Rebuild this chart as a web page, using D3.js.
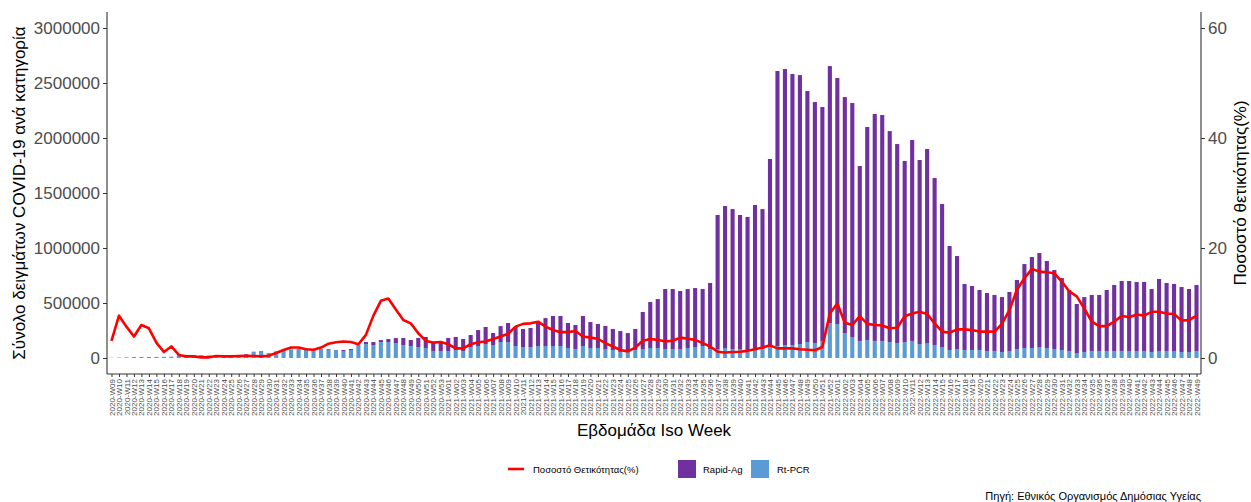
<!DOCTYPE html>
<html><head><meta charset="utf-8">
<script src="https://cdn.jsdelivr.net/npm/d3@7"></script>
<style>body{margin:0;background:#fff}svg{display:block}text{font-family:"Liberation Sans",Arial,sans-serif}</style>
</head><body><svg id="c" width="1251" height="502"></svg>
<script>
// ---- categories (ISO weeks) ----
const years = [[2020, 9, 53], [2021, 1, 52], [2022, 1, 49]];
const weeks = [];
years.forEach(([y, a, b]) => { for (let w = a; w <= b; w++) weeks.push(y + "-W" + String(w).padStart(2, "0")); });

// ---- series values ----
const rtpcr = [2000,4000,6000,9000,10000,9000,10000,11000,12000,
24000,24000,27000,27000,24000,27000,24000,24000,24000,
30000,
58000,64000,45000,61000,73000,79000,82000,82000,79000,82000,
76000,73000,64000,73000,118000,127000,118000,145000,145000,136000,118000,109000,100000,91000,64000,64000,64000,73000,64000,100000,109000,127000,118000,145000,145000,109000,100000,100000,109000,109000,
109000,109000,91000,82000,109000,91000,91000,82000,73000,55000,55000,73000,82000,91000,91000,82000,82000,82000,91000,100000,109000,82000,82000,91000,82000,82000,73000,73000,82000,100000,
109000,118000,118000,127000,145000,136000,155000,318000,309000,227000,191000,155000,164000,155000,155000,145000,136000,145000,155000,127000,136000,118000,100000,73000,82000,73000,73000,73000,64000,
64000,55000,64000,82000,91000,91000,100000,91000,82000,73000,64000,45000,55000,64000,64000,64000,64000,64000,64000,64000,64000,55000,64000,64000,64000,55000,55000,64000];

const rapidAg = [0,0,0,0,0,0,0,0,0,0,0,0,0,0,0,0,0,0,
6000,0,0,0,0,0,0,0,6000,0,0,
6000,0,9000,9000,0,18000,27000,18000,27000,45000,64000,55000,82000,100000,73000,82000,118000,118000,109000,109000,145000,155000,109000,145000,173000,173000,164000,173000,218000,254000,
273000,273000,227000,218000,273000,236000,218000,209000,191000,190000,172000,191000,336000,418000,445000,545000,545000,527000,536000,536000,518000,600000,1218000,1291000,1272000,1218000,1209000,1318000,1272000,1709000,
2500000,2509000,2464000,2445000,2282000,2191000,2127000,2336000,2236000,2145000,2127000,1590000,1936000,2063000,2054000,1918000,1809000,1646000,1827000,1673000,1764000,1518000,1300000,945000,845000,600000,581000,545000,527000,
509000,499000,536000,627000,763000,827000,854000,791000,718000,654000,554000,446000,499000,509000,509000,554000,600000,636000,636000,627000,627000,572000,654000,618000,609000,590000,572000,600000];

const positivity = [3.1,7.7,5.7,3.9,6.0,5.4,2.8,1.1,2.1,0.55,0.3,0.3,0.12,0.12,0.36,0.3,0.3,0.36,0.4,0.36,0.3,0.4,0.9,1.45,1.9,1.9,1.6,1.5,1.9,2.6,
2.85,3.0,2.9,2.5,4.2,7.7,10.4,10.8,8.8,6.9,6.3,4.5,3.1,2.8,2.9,2.5,1.75,1.75,2.5,2.85,3.0,3.45,3.9,4.4,5.7,6.2,6.3,6.6,5.7,
5.1,4.7,4.7,4.9,3.9,3.7,3.5,2.7,2.1,1.45,1.2,1.9,3.15,3.45,3.3,3.0,3.15,3.7,3.5,3.3,2.7,2.1,1.15,1.0,1.1,1.15,1.3,1.6,1.9,2.3,
1.75,1.75,1.75,1.6,1.5,1.4,2.0,8.1,9.9,6.4,6.0,7.6,6.2,6.0,5.9,5.4,5.5,7.6,8.1,8.4,8.0,6.3,4.8,4.6,5.2,5.2,5.1,4.8,4.8,
4.8,6.2,8.7,12.4,14.5,16.2,15.7,15.6,15.4,13.9,12.1,11.2,9.0,6.6,5.8,5.8,6.6,7.7,7.4,7.9,7.7,8.4,8.4,8.1,8.0,6.8,6.9,7.7];

// ---- tick labels ----
const leftTicks = [0, 500000, 1000000, 1500000, 2000000, 2500000, 3000000];
const rightTicks = [0, 20, 40, 60];
const seriesNames = ["Rapid-Ag", "Rt-PCR"];
const lineName = "Ποσοστό Θετικότητας(%)";

// ---- drawing ----
const svg = d3.select("#c");
const L = 107, R = 1201, T = 12, B = 374;
const PURPLE = "#7030A0", BLUE = "#5B9BD5", RED = "#FF0000", AX = "#333333", TXT = "#4D4D4D";

const x = d3.scalePoint().domain(weeks).range([L, R]).padding(0.6);
const y = d3.scaleLinear().domain([0, 3000000]).range([358, 28]);
const yr = d3.scaleLinear().domain([0, 60]).range([358, 28]);
const bw = x.step() * 0.55;

const data = weeks.map((w, i) => ({ w, pcr: rtpcr[i], rag: rapidAg[i], p: positivity[i] }));

const g = svg.append("g");
g.selectAll("rect.pcr").data(data).enter().append("rect")
  .attr("x", d => x(d.w) - bw / 2).attr("width", bw)
  .attr("y", d => y(d.pcr)).attr("height", d => y(0) - y(d.pcr)).attr("fill", BLUE);
g.selectAll("rect.rag").data(data.filter(d => d.rag > 0)).enter().append("rect")
  .attr("x", d => x(d.w) - bw / 2).attr("width", bw)
  .attr("y", d => y(d.pcr + d.rag)).attr("height", d => y(d.pcr) - y(d.pcr + d.rag)).attr("fill", PURPLE);

g.append("path").datum(data)
  .attr("d", d3.line().x(d => x(d.w)).y(d => yr(d.p)))
  .attr("fill", "none").attr("stroke", RED).attr("stroke-width", 2.6).attr("stroke-linejoin", "round");

// axes
const ax = svg.append("g");
function styleAxis(sel, fs) {
  sel.select(".domain").remove();
  sel.selectAll(".tick line").attr("stroke", AX);
  sel.selectAll(".tick text").attr("fill", TXT).attr("font-size", fs);
}
ax.append("g").attr("transform", `translate(${L},0)`)
  .call(d3.axisLeft(y).tickValues(leftTicks).tickFormat(d3.format("d")).tickSize(4).tickPadding(3))
  .call(s => styleAxis(s, "17px"));
ax.append("g").attr("transform", `translate(${R},0)`)
  .call(d3.axisRight(yr).tickValues(rightTicks).tickSize(4).tickPadding(3))
  .call(s => styleAxis(s, "17px"));
const xa = ax.append("g").attr("transform", `translate(0,${B})`)
  .call(d3.axisBottom(x).tickSize(3).tickPadding(2));
styleAxis(xa, "8px");
xa.selectAll(".tick text").attr("transform", "rotate(-90)").attr("text-anchor", "end")
  .attr("x", -5).attr("y", 0).attr("dy", "0.32em");

ax.append("line").attr("x1", L).attr("x2", L).attr("y1", T).attr("y2", B).attr("stroke", AX).attr("stroke-width", 1.1);
ax.append("line").attr("x1", R).attr("x2", R).attr("y1", T).attr("y2", B).attr("stroke", AX).attr("stroke-width", 1.1);
ax.append("line").attr("x1", L).attr("x2", R).attr("y1", B).attr("y2", B).attr("stroke", AX).attr("stroke-width", 1.1);

// titles
svg.append("text").attr("transform", "translate(25,193) rotate(-90)").attr("text-anchor", "middle")
  .attr("font-size", "17px").attr("fill", "#000").text("Σύνολο δειγμάτων COVID-19 ανά κατηγορία");
svg.append("text").attr("transform", "translate(1246,193) rotate(-90)").attr("text-anchor", "middle")
  .attr("font-size", "17px").attr("fill", "#000").text("Ποσοστό θετικότητας(%)");
svg.append("text").attr("x", 654).attr("y", 436).attr("text-anchor", "middle")
  .attr("font-size", "17px").attr("fill", "#000").text("Εβδομάδα Iso Week");

// legend
const lg = svg.append("g");
lg.append("line").attr("x1", 508).attr("x2", 524).attr("y1", 469).attr("y2", 469).attr("stroke", RED).attr("stroke-width", 2.6);
lg.append("text").attr("x", 533).attr("y", 472.5).attr("font-size", "9.5px").attr("fill", "#000").text(lineName);
lg.append("rect").attr("x", 678).attr("y", 460).attr("width", 18).attr("height", 18).attr("fill", PURPLE);
lg.append("text").attr("x", 703).attr("y", 472.5).attr("font-size", "9.5px").attr("fill", "#000").text(seriesNames[0]);
lg.append("rect").attr("x", 751).attr("y", 460).attr("width", 18).attr("height", 18).attr("fill", BLUE);
lg.append("text").attr("x", 777).attr("y", 472.5).attr("font-size", "9.5px").attr("fill", "#000").text(seriesNames[1]);

svg.append("text").attr("x", 1201).attr("y", 500).attr("text-anchor", "end")
  .attr("font-size", "11px").attr("fill", "#000").text("Πηγή: Εθνικός Οργανισμός Δημόσιας Υγείας");
</script></body></html>
